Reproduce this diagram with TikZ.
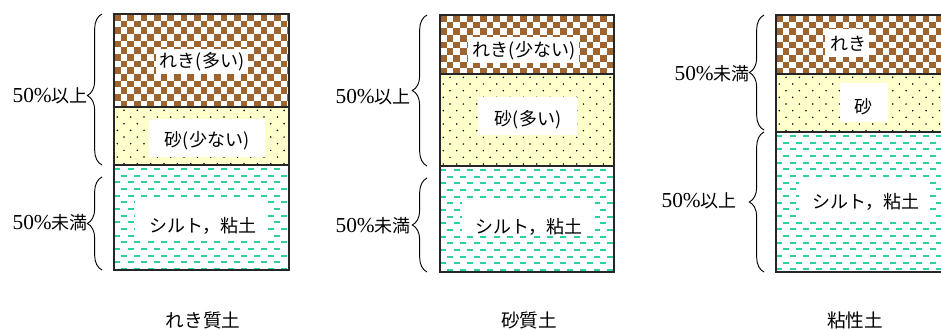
\documentclass[tikz,border=0pt]{standalone}
\usepackage{fontspec}
\setmainfont{Liberation Serif}
\newfontfamily\jp{Noto Sans CJK JP}
\usetikzlibrary{decorations.pathreplacing}
\definecolor{gravelc}{RGB}{158,100,48}
\definecolor{sandc}{RGB}{255,255,204}
\definecolor{siltc}{RGB}{45,208,160}
\newcommand\cellsz{6.67}
\newcommand\gravelfill[4]{%
  \begin{scope}
    \clip (#1,#2) rectangle (#3,#4);
    \fill[white] (#1,#2) rectangle (#3,#4);
    \foreach \i in {0,...,27}{\foreach \j in {0,...,20}{%
      \ifodd\numexpr\i+\j\relax\else
        \fill[gravelc] ({#1+\i*\cellsz},{#2+\j*\cellsz}) rectangle ++(\cellsz,\cellsz);
      \fi}}
  \end{scope}}
\newcommand\sandfill[4]{%
  \begin{scope}
    \clip (#1,#2) rectangle (#3,#4);
    \fill[sandc] (#1,#2) rectangle (#3,#4);
    \foreach \i in {0,...,27}{\foreach \j in {0,...,20}{%
      \ifodd\numexpr\i+\j\relax
        \fill[black] ({#1+(\i+0.5)*\cellsz},{#2+(\j+0.5)*\cellsz}) circle (0.85);
      \fi}}
  \end{scope}}
\newcommand\siltfill[4]{%
  \begin{scope}
    \clip (#1,#2) rectangle (#3,#4);
    \fill[white] (#1,#2) rectangle (#3,#4);
    \foreach \i in {0,...,27}{\foreach \j in {0,...,25}{%
      \ifodd\numexpr\i+\j\relax\else
        \draw[siltc,line width=1.5pt] ({#1+\i*\cellsz+0.4},{#2+(\j+0.6)*\cellsz}) -- ++(\cellsz-0.8,0);
      \fi}}
  \end{scope}}
\tikzset{
  lbl/.style={font=\jp\fontsize{13.5}{15}\selectfont, inner sep=0pt},
  ttl/.style={font=\jp\fontsize{14}{16}\selectfont, inner sep=0pt},
  side/.style={inner sep=0pt, anchor=east},
  brc/.style={decorate, decoration={brace, amplitude=11}, line width=0.7pt},
  layer/.style={line width=1.1pt, draw=black!85}
}
\newcommand\pct[1]{{\fontsize{16}{18}\selectfont 50\%}{\jp\fontsize{13.5}{15}\selectfont #1}}
\begin{document}
\begin{tikzpicture}[x=0.75pt,y=-0.75pt]
\useasboundingbox (0,0) rectangle (941,329);
% ---------- column 1 : れき質土 ----------
\gravelfill{114}{14}{289}{107}
\sandfill{114}{107}{289}{165}
\siltfill{114}{165}{289}{270}
\fill[white] (156,49) rectangle (248,74);
\fill[white] (149,119) rectangle (265,157);
\fill[white] (135,200) rectangle (267,237);
\draw[layer] (114,14) rectangle (289,270);
\draw[layer] (114,107) -- (289,107);
\draw[layer] (114,165) -- (289,165);
\node[lbl] (a1) at (202,62) {れき(多い)};
\node[lbl] (a2) at (207,141) {砂(少ない)};
\node[lbl] (a3) at (203,226) {シルト，粘土};
\draw[brc, decoration={aspect=0.46}] (102,165) -- (102,14);
\draw[brc] (102,270) -- (102,177);
\node[side] (a4) at (88,96) {\pct{以上}};
\node[side] (a5) at (88,223) {\pct{未満}};
\node[ttl] (a6) at (203,320) {れき質土};
% ---------- column 2 : 砂質土 ----------
\gravelfill{440}{15}{614}{74}
\sandfill{440}{74}{614}{166}
\siltfill{440}{166}{614}{272}
\fill[white] (468,37) rectangle (579,63);
\fill[white] (478,97) rectangle (577,135);
\fill[white] (462,202) rectangle (595,236);
\draw[layer] (440,15) rectangle (614,272);
\draw[layer] (440,74) -- (614,74);
\draw[layer] (440,166) -- (614,166);
\node[lbl] (b1) at (524,51) {れき(少ない)};
\node[lbl] (b2) at (528,120) {砂(多い)};
\node[lbl] (b3) at (529,227) {シルト，粘土};
\draw[brc] (427,166) -- (427,15);
\draw[brc] (427,272) -- (427,178);
\node[side] (b4) at (411,97) {\pct{以上}};
\node[side] (b5) at (411,226) {\pct{未満}};
\node[ttl] (b6) at (529,320) {砂質土};
% ---------- column 3 : 粘性土 ----------
\gravelfill{776}{15}{952}{74}
\sandfill{776}{74}{952}{132}
\siltfill{776}{132}{952}{272}
\fill[white] (825,29) rectangle (869,57);
\fill[white] (840,83) rectangle (888,122);
\fill[white] (799,177) rectangle (929,222);
\draw[layer] (776,15) rectangle (952,272);
\draw[layer] (776,74) -- (952,74);
\draw[layer] (776,132) -- (952,132);
\node[lbl] (c1) at (848,44) {れき};
\node[lbl] (c2) at (863,107) {砂};
\node[lbl] (c3) at (866,202) {シルト，粘土};
\draw[brc] (764,130) -- (764,15);
\draw[brc] (764,272) -- (764,132);
\node[side] (c4) at (750,74) {\pct{未満}};
\node[side] (c5) at (737,201) {\pct{以上}};
\node[ttl] (c6) at (855,320) {粘性土};
\end{tikzpicture}
\end{document}
